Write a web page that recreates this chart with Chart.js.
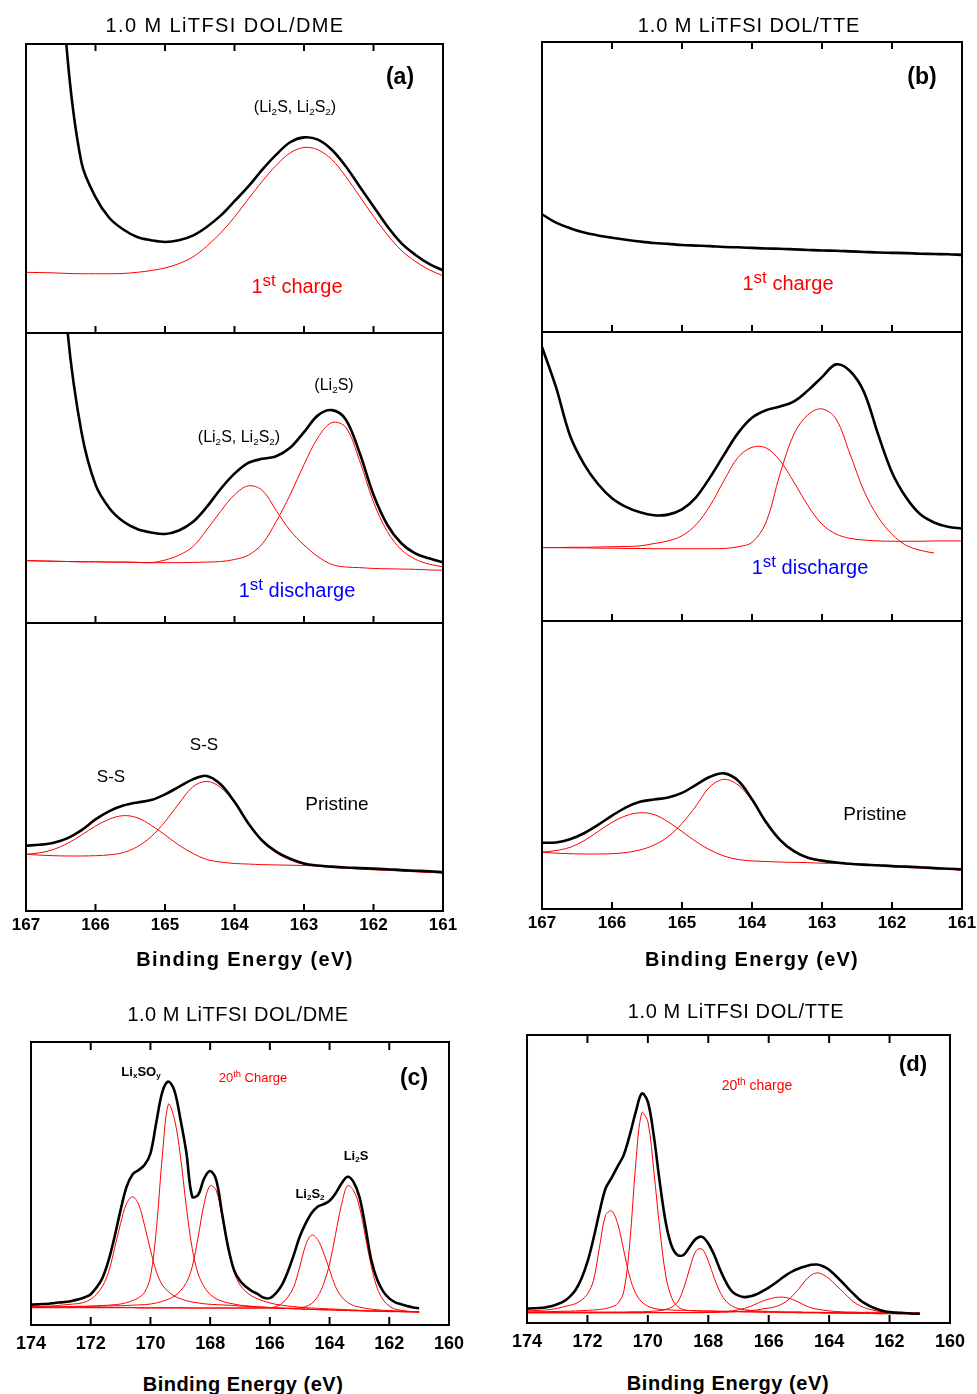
<!DOCTYPE html>
<html lang="en">
<head>
<meta charset="utf-8">
<title>S 2p XPS spectra</title>
<script src="https://cdn.jsdelivr.net/npm/chart.js@4.4.1/dist/chart.umd.min.js"></script>
<style>
  html, body { margin: 0; background: #fff; }
  body { position: relative; width: 977px; height: 1394px; overflow: hidden;
         font-family: "Liberation Sans", Arial, Helvetica, sans-serif; color: #000; }
  canvas { position: absolute; }
  .t { position: absolute; transform: translate(-50%, -50%); white-space: nowrap; line-height: 1; }
  .t sub { font-size: 0.62em; vertical-align: -0.3em; line-height: 0; }
  .t sup { font-size: 0.72em; vertical-align: 0.45em; line-height: 0; }
  .cyc sup { font-size: 0.85em; vertical-align: 0.4em; }
  .title { font-size: 20px; }
  .axis { font-size: 20px; font-weight: bold; }
  .tag { font-size: 23px; font-weight: bold; }
  .note { font-size: 16px; }
  .cyc { font-size: 20px; }
  .small { font-size: 13px; font-weight: bold; }
  .red { color: #ff0000; }
  .blue { color: #0000ff; }
</style>
</head>
<body>
<canvas id="a1"></canvas>
<canvas id="a2"></canvas>
<canvas id="a3"></canvas>
<canvas id="b1"></canvas>
<canvas id="b2"></canvas>
<canvas id="b3"></canvas>
<canvas id="c"></canvas>
<canvas id="d"></canvas>

<div class="t title" style="left:225px;top:25px;letter-spacing:1.4px">1.0 M LiTFSI DOL/DME</div>
<div class="t title" style="left:749px;top:25px;letter-spacing:0.9px">1.0 M LiTFSI DOL/TTE</div>
<div class="t title" style="left:238px;top:1014px;letter-spacing:0.5px">1.0 M LiTFSI DOL/DME</div>
<div class="t title" style="left:736px;top:1011px;letter-spacing:0.6px">1.0 M LiTFSI DOL/TTE</div>

<div class="t axis" style="left:245px;top:959px;letter-spacing:1.4px">Binding Energy (eV)</div>
<div class="t axis" style="left:752px;top:959px;letter-spacing:1.2px">Binding Energy (eV)</div>
<div class="t axis" style="left:243px;top:1384px;letter-spacing:0.5px">Binding Energy (eV)</div>
<div class="t axis" style="left:728px;top:1383px;letter-spacing:0.6px">Binding Energy (eV)</div>

<div class="t tag" style="left:400px;top:76px">(a)</div>
<div class="t tag" style="left:922px;top:76px">(b)</div>
<div class="t tag" style="left:414px;top:1077px">(c)</div>
<div class="t tag" style="left:913px;top:1064px;font-size:22px">(d)</div>

<div class="t note" style="left:295px;top:107px">(Li<sub>2</sub>S, Li<sub>2</sub>S<sub>2</sub>)</div>
<div class="t cyc red" style="left:297px;top:286px">1<sup>st</sup> charge</div>
<div class="t note" style="left:334px;top:385px">(Li<sub>2</sub>S)</div>
<div class="t note" style="left:239px;top:437px">(Li<sub>2</sub>S, Li<sub>2</sub>S<sub>2</sub>)</div>
<div class="t cyc blue" style="left:297px;top:590px">1<sup>st</sup> discharge</div>
<div class="t note" style="left:111px;top:776px;font-size:17px">S-S</div>
<div class="t note" style="left:204px;top:744px;font-size:17px">S-S</div>
<div class="t note" style="left:337px;top:803px;font-size:19px">Pristine</div>

<div class="t cyc red" style="left:788px;top:283px">1<sup>st</sup> charge</div>
<div class="t cyc blue" style="left:810px;top:567px">1<sup>st</sup> discharge</div>
<div class="t note" style="left:875px;top:813px;font-size:19px">Pristine</div>

<div class="t small" style="left:141px;top:1071px">Li<sub>x</sub>SO<sub>y</sub></div>
<div class="t red" style="left:253px;top:1077px;font-size:13px">20<sup>th</sup> Charge</div>
<div class="t small" style="left:310px;top:1193px">Li<sub>2</sub>S<sub>2</sub></div>
<div class="t small" style="left:356px;top:1155px">Li<sub>2</sub>S</div>
<div class="t red" style="left:757px;top:1085px;font-size:14px">20<sup>th</sup> charge</div>

<script>
// binding energy grids (eV)
const EV_S = [167.0, 166.8, 166.6, 166.4, 166.2, 166.0, 165.8, 165.6, 165.4, 165.2,
  165.0, 164.8, 164.6, 164.4, 164.2, 164.0, 163.8, 163.6, 163.4, 163.2,
  163.0, 162.8, 162.6, 162.4, 162.2, 162.0, 161.8, 161.6, 161.4, 161.2, 161.0];
const EV_W = [174.0, 173.8, 173.6, 173.4, 173.2, 173.0, 172.8, 172.6, 172.4, 172.2,
  172.0, 171.8, 171.6, 171.4, 171.2, 171.0, 170.8, 170.6, 170.4, 170.2,
  170.0, 169.8, 169.6, 169.4, 169.2, 169.0, 168.8, 168.6, 168.4, 168.2,
  168.0, 167.8, 167.6, 167.4, 167.2, 167.0, 166.8, 166.6, 166.4, 166.2,
  166.0, 165.8, 165.6, 165.4, 165.2, 165.0, 164.8, 164.6, 164.4, 164.2,
  164.0, 163.8, 163.6, 163.4, 163.2, 163.0, 162.8, 162.6, 162.4, 162.2,
  162.0, 161.8, 161.6, 161.4, 161.2, 161.0];

const TICKS_S = [167, 166, 165, 164, 163, 162, 161];
const TICKS_W = [174, 172, 170, 168, 166, 164, 162, 160];

// DOL/DME, 1st charge
const A_CHG_ENV = [380, 260, 165, 94.6, 58.8, 47.0, 39.8, 35.8, 33.2, 32.1,
  31.5, 32.1, 33.7, 36.7, 40.6, 45.6, 50.7, 56.5, 61.7, 66.0,
  67.7, 66.9, 63.4, 57.7, 50.7, 43.8, 36.9, 31.1, 27.1, 23.9, 21.7];
const A_CHG_FIT = [21.0, 20.9, 20.8, 20.6, 20.5, 20.5, 20.5, 20.6, 21.0, 21.6,
  22.5, 24.0, 26.3, 30.0, 34.6, 40.1, 46.4, 52.5, 58.0, 62.3,
  64.2, 63.4, 60.0, 54.2, 47.3, 40.4, 34.0, 28.6, 24.8, 21.9, 19.8];

// DOL/DME, 1st discharge
const A_DIS_ENV = [380, 260, 165, 100, 65.6, 47.7, 39.6, 35.0, 32.4, 31.2,
  30.7, 31.9, 34.8, 40.0, 46.2, 51.5, 55.2, 56.6, 57.5, 60.4,
  65.8, 71.6, 73.4, 70.2, 58.7, 44.2, 33.8, 27.5, 24.0, 22.3, 20.9];
const A_DIS_FIT1 = [21.5, 21.4, 21.3, 21.2, 21.1, 21.1, 21.0, 21.0, 20.9, 20.8,
  21.7, 23.4, 26.3, 32.1, 38.5, 44.2, 47.3, 45.7, 38.8, 31.9,
  26.9, 22.9, 20.2, 19.3, 19.1, 18.8, 18.7, 18.6, 18.5, 18.3, 18.2];
const A_DIS_FIT2 = [21.5, 21.4, 21.3, 21.2, 21.1, 21.1, 21.0, 21.0, 20.9, 20.8,
  20.8, 20.8, 20.9, 21.0, 21.2, 21.9, 23.4, 27.3, 35.0, 44.2,
  54.6, 63.9, 69.1, 67.5, 56.0, 41.7, 31.5, 25.3, 22.0, 20.3, 19.4];

// DOL/DME, pristine
const A_PRI_ENV = [22.7, 23.0, 23.7, 25.3, 28.1, 31.8, 34.7, 36.6, 37.7, 38.5,
  40.5, 43.1, 45.7, 46.9, 44.0, 37.9, 30.4, 24.4, 20.6, 18.2,
  16.5, 15.8, 15.4, 15.1, 14.9, 14.7, 14.5, 14.2, 14.0, 13.8, 13.5];
const A_PRI_FIT1 = [19.7, 20.2, 21.4, 23.5, 26.4, 29.5, 31.9, 33.1, 32.4, 29.8,
  26.4, 22.9, 20.0, 17.9, 17.0, 16.5, 16.3, 16.1, 16.0, 15.9,
  15.8, 15.6, 15.3, 15.1, 14.9, 14.7, 14.3, 14.1, 13.8, 13.5, 13.1];
const A_PRI_FIT2 = [19.7, 19.4, 19.2, 19.1, 19.1, 19.2, 19.5, 20.3, 22.3, 25.8,
  31.0, 37.3, 43.1, 45.0, 42.9, 37.6, 30.4, 24.2, 20.2, 17.7,
  16.2, 15.6, 15.1, 14.9, 14.6, 14.3, 14.1, 13.9, 13.6, 13.4, 13.2];

// DOL/TTE, 1st charge
const B_CHG_ENV = [40.6, 37.7, 35.8, 34.3, 33.3, 32.5, 31.8, 31.2, 30.7, 30.4,
  30.0, 29.8, 29.6, 29.3, 29.2, 29.0, 28.8, 28.7, 28.5, 28.3,
  28.1, 28.0, 27.8, 27.6, 27.4, 27.3, 27.2, 27.0, 26.9, 26.8, 26.6];

// DOL/TTE, 1st discharge
const B_DIS_ENV = [94.8, 80.9, 64.2, 54.3, 47.4, 42.5, 39.5, 37.6, 36.6, 36.8,
  38.6, 42.8, 49.7, 57.5, 65.0, 70.3, 72.9, 74.2, 76.0, 79.8,
  84.4, 88.8, 86.5, 79.2, 64.7, 51.4, 42.8, 37.0, 34.1, 32.6, 32.0];
const B_DIS_FIT1 = [25.4, 25.4, 25.5, 25.5, 25.6, 25.7, 25.8, 26.0, 26.8, 27.7,
  29.5, 33.3, 39.9, 48.6, 56.6, 60.1, 59.9, 55.5, 48.0, 39.9,
  33.5, 30.1, 28.6, 28.0, 27.7, 27.6, 27.6, 27.6, 27.7, 27.7, 27.7];
const B_DIS_FIT2 = [25.4, 25.4, 25.3, 25.3, 25.2, 25.2, 25.1, 25.1, 25.0, 25.0,
  25.0, 25.0, 25.0, 25.1, 25.7, 27.2, 34.1, 50.9, 64.7, 71.4,
  73.4, 69.9, 57.8, 45.0, 36.0, 30.0, 26.2, 24.5, 23.5, null, null];

// DOL/TTE, pristine
const B_PRI_ENV = [23.0, 23.1, 24.2, 26.3, 29.2, 32.4, 35.3, 37.2, 38.0, 38.7,
  40.3, 43.1, 45.9, 47.1, 44.6, 38.1, 30.2, 24.0, 20.1, 17.8,
  16.8, 16.2, 15.7, 15.4, 15.2, 14.9, 14.7, 14.5, 14.2, 14.0, 13.8];
const B_PRI_FIT1 = [19.7, 20.3, 21.4, 23.7, 26.9, 30.1, 32.4, 33.4, 32.8, 30.3,
  26.9, 23.4, 20.5, 18.4, 17.2, 16.7, 16.5, 16.3, 16.2, 16.1,
  15.9, 15.8, 15.6, 15.4, 15.2, 15.0, 14.8, 14.5, 14.3, 13.9, 13.4];
const B_PRI_FIT2 = [19.7, 19.4, 19.2, 19.1, 19.1, 19.2, 19.6, 20.5, 22.2, 25.1,
  29.7, 35.8, 42.5, 45.0, 43.1, 37.6, 29.7, 23.6, 19.8, 17.6,
  16.6, 16.0, 15.6, 15.3, 15.0, 14.7, 14.5, 14.2, 14.0, 13.8, 13.5];

// DOL/DME, 20th charge (wide scan)
const C_ENV = [7.2, 7.3, 7.4, 7.5, 7.8, 8.0, 8.2, 8.6, 9.1, 9.8,
  10.9, 13.3, 16.8, 22.9, 31.2, 40.6, 48.8, 53.2, 54.7, 56.5,
  60.6, 71.8, 82.4, 86.0, 82.9, 73.0, 61.2, 45.3, 46.0, 51.8,
  54.4, 51.4, 39.4, 27.6, 19.4, 15.6, 13.5, 12.0, 10.9, 9.6,
  9.5, 11.2, 14.1, 18.8, 24.7, 31.2, 35.9, 39.6, 41.8, 42.7,
  43.9, 46.5, 50.0, 52.4, 50.6, 45.3, 34.7, 22.9, 15.9, 11.8,
  9.4, 8.0, 7.3, 6.7, 6.2, 5.9];
const C_FIT_A = [6.5, 6.5, 6.6, 6.7, 6.8, 7.0, 7.2, 7.4, 7.6, 8.1,
  9.1, 10.9, 13.8, 18.8, 27.1, 35.9, 42.9, 45.3, 42.7, 35.3,
  26.5, 18.8, 14.1, 11.8, 10.2, 9.3, 8.6, 8.1, 7.8, 7.5,
  7.3, 7.2, 7.1, 7.0, 6.9, 6.7, 6.6, 6.5, 6.4, 6.3,
  6.2, 6.1, 6.0, 5.9, 5.8, 5.8, 5.7, 5.6, 5.5, 5.5,
  5.4, 5.3, 5.3, 5.2, 5.2, 5.1, 5.0, 5.0, 4.9, 4.9,
  4.8, 4.8, 4.7, 4.7, 4.7, 4.6];
const C_FIT_B = [6.2, 6.2, 6.3, 6.3, 6.4, 6.4, 6.5, 6.5, 6.6, 6.6,
  6.7, 6.8, 6.9, 7.0, 7.2, 7.4, 7.9, 8.6, 9.6, 11.5,
  17.0, 34.0, 60.0, 78.0, 73.0, 60.0, 42.0, 27.0, 18.0, 13.5,
  10.8, 9.3, 8.4, 7.8, 7.4, 7.0, 6.8, 6.6, 6.4, 6.3,
  6.1, 6.0, 5.9, 5.8, 5.7, 5.6, 5.5, 5.5, 5.4, 5.3,
  5.3, 5.2, 5.1, 5.1, 5.0, 5.0, 4.9, 4.9, 4.8, 4.8,
  4.7, 4.7, 4.7, 4.6, 4.6, 4.6];
const C_FIT_C = [6.2, 6.2, 6.2, 6.3, 6.3, 6.3, 6.4, 6.4, 6.5, 6.5,
  6.6, 6.6, 6.7, 6.7, 6.8, 6.8, 6.9, 7.0, 7.1, 7.2,
  7.4, 7.8, 8.4, 9.1, 10.2, 12.0, 14.9, 20.6, 31.2, 42.9,
  49.2, 47.6, 38.2, 27.1, 18.8, 14.1, 11.8, 10.2, 9.2, 8.4,
  7.8, 7.3, 7.0, 6.7, 6.5, 6.3, 6.1, 6.0, 5.9, 5.8,
  5.7, 5.6, 5.5, 5.4, 5.3, 5.2, 5.1, 5.0, 5.0, 4.9,
  4.9, 4.8, 4.8, 4.7, 4.7, 4.6];
const C_FIT_D = [6.4, 6.4, 6.4, 6.4, 6.3, 6.3, 6.3, 6.3, 6.3, 6.3,
  6.2, 6.2, 6.2, 6.2, 6.2, 6.2, 6.2, 6.2, 6.1, 6.1,
  6.1, 6.1, 6.1, 6.1, 6.1, 6.1, 6.1, 6.0, 6.0, 6.0,
  6.0, 6.0, 6.0, 6.0, 6.0, 6.0, 6.0, 6.0, 6.0, 6.0,
  6.1, 6.5, 7.6, 9.8, 13.5, 20.5, 28.2, 31.8, 30.2, 25.5,
  19.5, 13.5, 10.0, 8.0, 6.9, 6.3, 5.9, 5.6, 5.4, 5.2,
  5.1, 5.0, 4.9, 4.8, 4.7, 4.6];
const C_FIT_E = [6.1, 6.1, 6.1, 6.1, 6.1, 6.1, 6.1, 6.1, 6.1, 6.1,
  6.1, 6.1, 6.1, 6.1, 6.1, 6.1, 6.1, 6.1, 6.0, 6.0,
  6.0, 6.0, 6.0, 6.0, 6.0, 6.0, 6.0, 6.0, 6.0, 6.0,
  6.0, 6.0, 6.0, 6.0, 6.0, 6.0, 6.0, 6.0, 6.0, 6.0,
  6.0, 5.9, 5.9, 5.9, 5.9, 6.1, 6.5, 7.6, 10.0, 14.5,
  21.5, 32.0, 42.5, 49.2, 47.6, 41.8, 31.2, 20.6, 12.9, 8.8,
  6.7, 5.6, 5.2, 4.9, 4.7, 4.6];

// DOL/TTE, 20th charge (wide scan)
const D_ENV = [5.0, 5.1, 5.2, 5.4, 5.8, 6.5, 7.4, 9.0, 11.4, 15.4,
  21.2, 29.3, 38.6, 46.7, 50.4, 54.4, 58.3, 65.2, 73.3, 79.7,
  76.8, 64.7, 48.4, 34.5, 26.4, 23.5, 23.8, 26.7, 29.3, 29.9,
  27.6, 23.5, 18.3, 13.9, 10.8, 9.5, 9.0, 9.3, 10.0, 11.1,
  12.3, 13.7, 15.3, 16.8, 18.0, 18.9, 19.6, 20.2, 20.3, 19.7,
  18.5, 16.6, 14.5, 12.3, 10.2, 8.2, 6.7, 5.6, 4.8, 4.2,
  3.8, 3.6, 3.5, 3.4, 3.2, 3.2];
const D_FIT_A = [4.2, 4.3, 4.4, 4.5, 4.7, 5.1, 5.6, 6.1, 6.7, 7.9,
  10.0, 14.8, 26.4, 37.4, 38.9, 34.5, 25.3, 16.0, 10.2, 7.3,
  5.8, 5.1, 4.7, 4.6, 4.5, 4.4, 4.4, 4.3, 4.3, 4.2,
  4.2, 4.2, 4.1, 4.1, 4.1, 4.0, 4.0, 4.0, 3.9, 3.9,
  3.9, 3.9, 3.8, 3.8, 3.8, 3.8, 3.7, 3.7, 3.7, 3.7,
  3.6, 3.6, 3.6, 3.6, 3.5, 3.5, 3.5, 3.5, 3.4, 3.4,
  3.4, 3.4, 3.4, 3.3, 3.3, 3.3];
const D_FIT_B = [3.8, 3.8, 3.9, 3.9, 4.0, 4.0, 4.1, 4.1, 4.2, 4.3,
  4.4, 4.5, 4.7, 5.0, 5.6, 6.7, 10.8, 27.6, 55.4, 73.0,
  69.9, 52.5, 32.2, 16.0, 8.5, 5.6, 4.6, 4.3, 4.2, 4.1,
  4.1, 4.0, 4.0, 3.9, 3.9, 3.9, 3.8, 3.8, 3.8, 3.7,
  3.7, 3.7, 3.6, 3.6, 3.6, 3.5, 3.5, 3.5, 3.5, 3.4,
  3.4, 3.4, 3.4, 3.3, 3.3, 3.3, 3.3, 3.3, 3.2, 3.2,
  3.2, 3.2, 3.2, 3.2, 3.2, 3.2];
const D_FIT_C = [3.8, 3.8, 3.8, 3.8, 3.8, 3.8, 3.8, 3.8, 3.8, 3.8,
  3.8, 3.8, 3.8, 3.8, 3.8, 3.8, 3.8, 3.9, 3.9, 3.9,
  4.0, 4.1, 4.3, 4.7, 5.6, 7.5, 12.5, 19.5, 25.2, 25.6,
  21.5, 15.5, 10.5, 7.4, 5.8, 5.0, 4.6, 4.4, 4.2, 4.1,
  4.0, 3.9, 3.9, 3.8, 3.8, 3.8, 3.7, 3.7, 3.7, 3.6,
  3.6, 3.6, 3.5, 3.5, 3.5, 3.5, 3.4, 3.4, 3.4, 3.4,
  3.4, 3.4, 3.3, 3.3, 3.3, 3.3];
const D_FIT_D = [3.6, 3.6, 3.6, 3.6, 3.6, 3.6, 3.6, 3.6, 3.6, 3.6,
  3.6, 3.6, 3.6, 3.6, 3.6, 3.6, 3.6, 3.6, 3.6, 3.6,
  3.6, 3.6, 3.6, 3.6, 3.6, 3.6, 3.6, 3.6, 3.6, 3.6,
  3.7, 3.7, 3.8, 3.9, 4.2, 4.6, 5.1, 5.8, 6.7, 7.6,
  8.3, 8.8, 9.0, 8.8, 8.1, 7.2, 6.1, 5.3, 4.8, 4.5,
  4.2, 4.0, 3.9, 3.8, 3.8, 3.7, 3.7, 3.7, 3.7, 3.6,
  3.6, 3.6, 3.6, 3.6, 3.6, 3.6];
const D_FIT_E = [3.5, 3.5, 3.5, 3.5, 3.5, 3.5, 3.5, 3.5, 3.5, 3.5,
  3.5, 3.5, 3.5, 3.5, 3.5, 3.5, 3.5, 3.5, 3.5, 3.5,
  3.6, 3.6, 3.6, 3.6, 3.6, 3.6, 3.6, 3.6, 3.6, 3.6,
  3.7, 3.7, 3.8, 3.8, 3.9, 4.0, 4.1, 4.3, 4.5, 4.9,
  5.2, 5.6, 6.4, 7.6, 9.6, 11.9, 14.6, 16.6, 17.4, 16.8,
  15.4, 13.4, 11.4, 9.3, 7.4, 6.1, 5.2, 4.6, 4.1, 3.8,
  3.7, 3.6, 3.5, 3.4, 3.3, 3.2];

const M = 20;                       // canvas margin around each plot frame
const FONT = '"Liberation Sans", Arial, sans-serif';

function series(xs, ys) {
  return xs.map((x, i) => ({ x: x, y: ys[i] }));
}

function envelope(xs, ys) {
  return { data: series(xs, ys), borderColor: '#000', borderWidth: 2.6,
           pointRadius: 0, tension: 0.35 };
}

function component(xs, ys) {
  return { data: series(xs, ys), borderColor: '#ff0000', borderWidth: 1,
           pointRadius: 0, tension: 0.35 };
}

// box frame plus inward tick marks
const frame = {
  id: 'frame',
  afterDatasetsDraw(chart, args, opts) {
    const { ctx, chartArea: a } = chart;
    const x = chart.scales.x;
    ctx.save();
    ctx.strokeStyle = '#000';
    ctx.lineWidth = 2;
    ctx.strokeRect(a.left, a.top, a.right - a.left, a.bottom - a.top);
    ctx.beginPath();
    opts.ticks.slice(1, -1).forEach(v => {
      const px = x.getPixelForValue(v);
      if (opts.top) { ctx.moveTo(px, a.top); ctx.lineTo(px, a.top + opts.len); }
      ctx.moveTo(px, a.bottom);
      ctx.lineTo(px, a.bottom - opts.len);
    });
    ctx.stroke();
    ctx.restore();
  }
};

function spectrum(id, box, ticks, sets, cfg) {
  const axisH = cfg.labels ? cfg.axisH : 0;
  const canvas = document.getElementById(id);
  canvas.width = box.r - box.l + 2 * M;
  canvas.height = box.b - box.t + M + (axisH || M);
  canvas.style.left = (box.l - M) + 'px';
  canvas.style.top = (box.t - M) + 'px';

  return new Chart(canvas, {
    type: 'line',
    data: { datasets: sets },
    options: {
      responsive: false,
      animation: false,
      events: [],
      layout: { padding: { left: M, right: M, top: M, bottom: axisH ? 0 : M } },
      plugins: {
        legend: { display: false },
        tooltip: { enabled: false },
        frame: { ticks: ticks, top: !!cfg.topTicks, len: cfg.tickLen }
      },
      scales: {
        x: {
          type: 'linear',
          reverse: true,
          min: Math.min(...ticks),
          max: Math.max(...ticks),
          display: !!cfg.labels,
          grid: { display: false, drawTicks: false },
          border: { display: false },
          afterBuildTicks: s => { s.ticks = ticks.map(v => ({ value: v })); },
          afterFit: s => { if (axisH) s.height = axisH; },
          ticks: {
            padding: cfg.pad || 0,
            autoSkip: false,
            maxRotation: 0,
            color: '#000',
            font: { family: FONT, size: cfg.fontSize || 17, weight: 'bold' }
          }
        },
        y: { display: false, min: 0, max: 100 }
      }
    },
    plugins: [frame]
  });
}

// DOL/DME column
spectrum('a1', { l: 26, t: 44, r: 443, b: 333 }, TICKS_S,
  [envelope(EV_S, A_CHG_ENV), component(EV_S, A_CHG_FIT)],
  { topTicks: true, tickLen: 7 });
spectrum('a2', { l: 26, t: 333, r: 443, b: 623 }, TICKS_S,
  [envelope(EV_S, A_DIS_ENV), component(EV_S, A_DIS_FIT1), component(EV_S, A_DIS_FIT2)],
  { tickLen: 7 });
spectrum('a3', { l: 26, t: 623, r: 443, b: 911 }, TICKS_S,
  [envelope(EV_S, A_PRI_ENV), component(EV_S, A_PRI_FIT1), component(EV_S, A_PRI_FIT2)],
  { labels: true, axisH: 36, pad: 4, fontSize: 17, tickLen: 7 });

// DOL/TTE column
spectrum('b1', { l: 542, t: 42, r: 962, b: 332 }, TICKS_S,
  [envelope(EV_S, B_CHG_ENV)],
  { topTicks: true, tickLen: 7 });
spectrum('b2', { l: 542, t: 332, r: 962, b: 621 }, TICKS_S,
  [envelope(EV_S, B_DIS_ENV), component(EV_S, B_DIS_FIT1), component(EV_S, B_DIS_FIT2)],
  { tickLen: 7 });
spectrum('b3', { l: 542, t: 621, r: 962, b: 909 }, TICKS_S,
  [envelope(EV_S, B_PRI_ENV), component(EV_S, B_PRI_FIT1), component(EV_S, B_PRI_FIT2)],
  { labels: true, axisH: 36, pad: 4, fontSize: 17, tickLen: 7 });

// 20th charge, wide range
spectrum('c', { l: 28, t: 1042, r: 452, b: 1325 }, TICKS_W,
  [envelope(EV_W, C_ENV), component(EV_W, C_FIT_A), component(EV_W, C_FIT_B),
   component(EV_W, C_FIT_C), component(EV_W, C_FIT_D), component(EV_W, C_FIT_E)],
  { labels: true, axisH: 40, pad: 8, fontSize: 18, topTicks: true, tickLen: 8 });
spectrum('d', { l: 524, t: 1035, r: 953, b: 1323 }, TICKS_W,
  [envelope(EV_W, D_ENV), component(EV_W, D_FIT_A), component(EV_W, D_FIT_B),
   component(EV_W, D_FIT_C), component(EV_W, D_FIT_D), component(EV_W, D_FIT_E)],
  { labels: true, axisH: 40, pad: 8, fontSize: 18, topTicks: true, tickLen: 8 });
</script>
</body>
</html>
